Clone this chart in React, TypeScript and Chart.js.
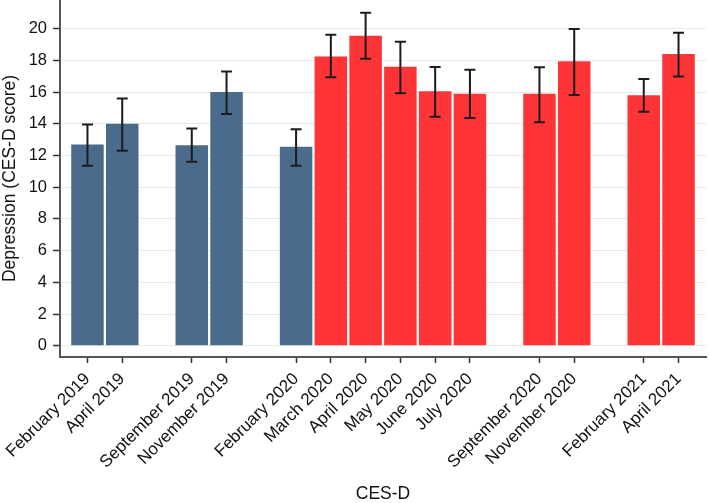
import React, { useEffect, useRef } from "react";
import { Chart, registerables } from "chart.js";

Chart.register(...registerables);

// Survey waves; empty strings are the gaps between survey rounds
const categories = [
  "February 2019", "April 2019", "",
  "September 2019", "November 2019", "",
  "February 2020", "March 2020", "April 2020", "May 2020", "June 2020", "July 2020", "",
  "September 2020", "November 2020", "",
  "February 2021", "April 2021",
];

// Mean CES-D depression scores
const means: (number | null)[] = [
  12.7, 14.0, null,
  12.65, 16.0, null,
  12.55, 18.25, 19.55, 17.6, 16.05, 15.9, null,
  15.9, 17.95, null,
  15.8, 18.4,
];

// 95% confidence interval bounds
const lower: (number | null)[] = [
  11.35, 12.3, null,
  11.6, 14.62, null,
  11.35, 16.93, 18.1, 15.92, 14.45, 14.37, null,
  14.1, 15.82, null,
  14.76, 16.99,
];
const upper: (number | null)[] = [
  13.95, 15.6, null,
  13.7, 17.3, null,
  13.65, 19.62, 21.0, 19.18, 17.58, 17.41, null,
  17.56, 19.98, null,
  16.83, 19.75,
];

// Period of each wave: pre-pandemic or pandemic
const period = [
  "pre", "pre", "",
  "pre", "pre", "",
  "pre", "pandemic", "pandemic", "pandemic", "pandemic", "pandemic", "",
  "pandemic", "pandemic", "",
  "pandemic", "pandemic",
];

const yTicks = [0, 2, 4, 6, 8, 10, 12, 14, 16, 18, 20];

const COLORS: Record<string, string> = { pre: "#4a6b8b", pandemic: "#ff3437" };
const FONT = "'Liberation Sans', Arial, Helvetica, sans-serif";

const errorBarPlugin = {
  id: "errorBars",
  afterDatasetsDraw(chart: any) {
    const { ctx, scales } = chart;
    const x = scales.x;
    const y = scales.y;
    ctx.save();
    ctx.strokeStyle = "#1c1c1c";
    ctx.lineWidth = 2;
    categories.forEach((_, i) => {
      const lo = lower[i];
      const hi = upper[i];
      if (means[i] == null || lo == null || hi == null) return;
      const px = x.getPixelForValue(i);
      const pTop = y.getPixelForValue(hi);
      const pBot = y.getPixelForValue(lo);
      const cap = 5.5;
      ctx.beginPath();
      ctx.moveTo(px, pTop);
      ctx.lineTo(px, pBot);
      ctx.moveTo(px - cap, pTop);
      ctx.lineTo(px + cap, pTop);
      ctx.moveTo(px - cap, pBot);
      ctx.lineTo(px + cap, pBot);
      ctx.stroke();
    });
    ctx.restore();
  },
};

export default function App() {
  const canvasRef = useRef<HTMLCanvasElement | null>(null);

  useEffect(() => {
    if (!canvasRef.current) return;
    const points: { x: number; y: number }[] = [];
    const colors: string[] = [];
    categories.forEach((c, i) => {
      const v = means[i];
      if (c && v != null) {
        points.push({ x: i, y: v });
        colors.push(COLORS[period[i]]);
      }
    });

    const chart = new Chart(canvasRef.current, {
      type: "bar",
      data: {
        datasets: [
          {
            label: "CES-D",
            data: points as any,
            backgroundColor: colors,
            borderWidth: 0,
            categoryPercentage: 1,
            barPercentage: 0.935,
          },
        ],
      },
      options: {
        animation: false,
        responsive: true,
        maintainAspectRatio: false,
        layout: { padding: { left: 0, right: 3, top: 0, bottom: 0 } },
        plugins: {
          legend: { display: false },
          tooltip: { enabled: false },
        },
        scales: {
          x: {
            type: "linear",
            min: -0.79,
            max: 17.79,
            offset: false,
            afterBuildTicks: (scale: any) => {
              scale.ticks = categories
                .map((c, i) => (c ? { value: i } : null))
                .filter(Boolean);
            },
            afterFit: (scale: any) => {
              scale.height = 146;
              scale.paddingLeft = 0;
              scale.paddingRight = 0;
            },
            grid: {
              drawOnChartArea: false,
              offset: false,
              tickLength: 6,
              tickColor: "#333",
              tickWidth: 1.5,
            },
            border: { color: "#555", width: 2 },
            ticks: {
              autoSkip: false,
              minRotation: 45,
              maxRotation: 45,
              padding: 6,
              color: "#111",
              font: { family: FONT, size: 17 },
              callback: (value: any) => categories[value as number] ?? "",
            },
            title: {
              display: true,
              text: "CES-D",
              color: "#111",
              font: { family: FONT, size: 17.5, lineHeight: 1 },
              padding: { top: -5, bottom: 0 },
            },
          },
          y: {
            type: "linear",
            min: -0.71,
            max: 21.81,
            afterBuildTicks: (scale: any) => {
              scale.ticks = yTicks.map((v) => ({ value: v }));
            },
            afterFit: (scale: any) => {
              scale.width = 60;
              scale.paddingTop = 0;
              scale.paddingBottom = 0;
            },
            grid: {
              color: "#e4ecef",
              lineWidth: 1,
              tickLength: 7,
              tickColor: "#333",
              tickWidth: 1.5,
            },
            border: { color: "#555", width: 2 },
            ticks: {
              padding: 6,
              color: "#111",
              font: { family: FONT, size: 16.5 },
            },
            title: {
              display: true,
              text: "Depression (CES-D score)",
              color: "#111",
              font: { family: FONT, size: 17.5, lineHeight: 1 },
              padding: { top: 1, bottom: 0 },
            },
          },
        },
      },
      plugins: [errorBarPlugin],
    });
    return () => chart.destroy();
  }, []);

  return (
    <div style={{ position: "fixed", left: 0, top: 0, width: 709, height: 503, background: "#fff" }}>
      <canvas ref={canvasRef} />
    </div>
  );
}
